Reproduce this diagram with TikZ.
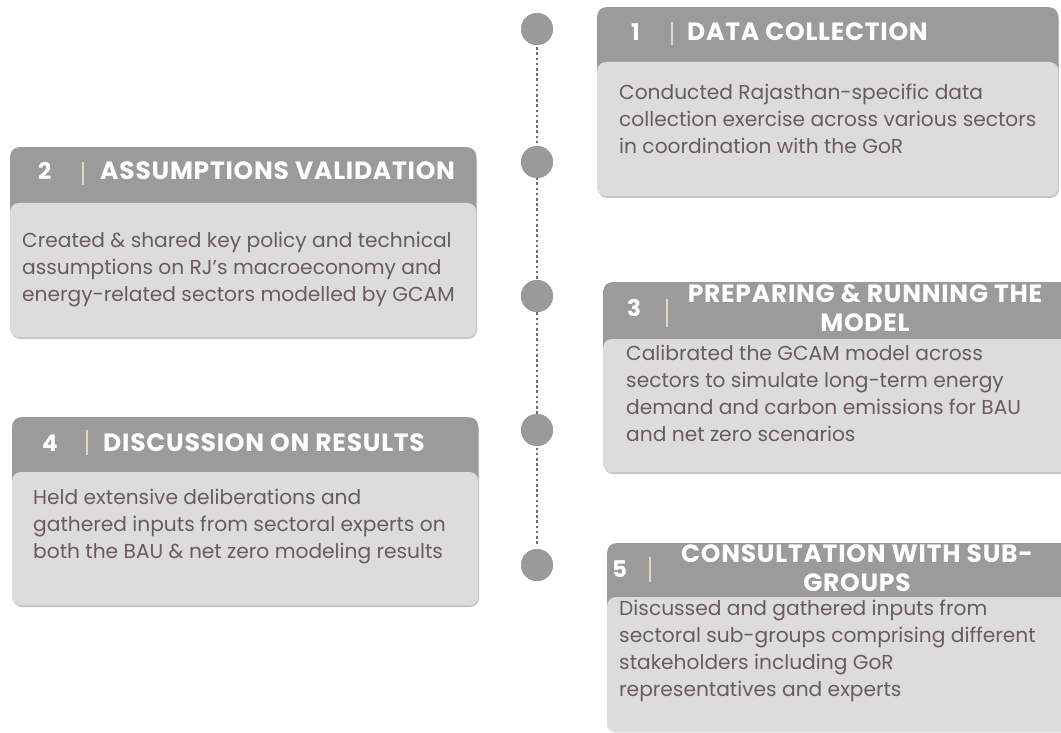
\documentclass[tikz,border=0pt]{standalone}
\usepackage{fontspec}
\setmainfont{Poppins}
\newfontfamily\titlefont[LetterSpace=3]{Poppins}
\definecolor{hdrgray}{HTML}{9B9B9B}
\definecolor{bodygray}{HTML}{DCDCDC}
\definecolor{shadowgray}{HTML}{C4C4C4}
\definecolor{dotgray}{HTML}{9A9A9A}
\definecolor{linegray}{HTML}{6F6F6F}
\definecolor{bodytxt}{HTML}{6B5B5B}
\definecolor{sepcol}{HTML}{E2D8C6}
\begin{document}
\begin{tikzpicture}[x=1pt,y=-1pt,
  card/.style={fill=hdrgray, rounded corners=9pt, inner sep=0, anchor=north west},
  cardbody/.style={fill=bodygray, rounded corners=9pt},
  cardshadow/.style={fill=shadowgray, rounded corners=9pt},
  stepnum/.style={font=\fontsize{23}{26}\selectfont\bfseries, text=white, anchor=base west, inner sep=0},
  steptitle/.style={font=\titlefont\fontsize{25}{29}\selectfont\bfseries, text=white, inner sep=0},
  bodytext/.style={font=\fontsize{20.2}{27}\selectfont, text=bodytxt, align=left, anchor=north west, inner sep=0},
  sepbar/.style={draw=sepcol, line width=1.3pt},
  dotnode/.style={circle, fill=dotgray, minimum size=32pt, inner sep=0},
  dotline/.style={draw=linegray, line width=2.6pt, dash pattern=on 2.6pt off 2.6pt}]
\useasboundingbox (0,0) rectangle (1061,733);
\fill[white] (0,0) rectangle (1061,733);

% timeline: dotted spine behind five markers
\node[dotnode] (c1) at (537,29) {};
\node[dotnode] (c2) at (537,162) {};
\node[dotnode] (c3) at (537,296) {};
\node[dotnode] (c4) at (537,430) {};
\node[dotnode] (c5) at (537,565) {};
\draw[dotline, shorten <=2pt, shorten >=4pt] (c1.south) -- (c5.north);
\foreach \c in {c1,c2,c3,c4,c5} \fill[dotgray] (\c) circle (16pt);

% soft shadows under the cards
\fill[cardshadow] (598,10) rectangle (1059,198);
\fill[cardshadow] (11,150) rectangle (477,339);
\fill[cardshadow] (604,285) rectangle (1075,474);
\fill[cardshadow] (13,420) rectangle (479,607);

% card 1
\node[card, minimum width=461pt, minimum height=189pt] (b1) at (597,7) {};
\fill[cardbody] (b1.south west) rectangle (b1.east |- 0,62);
\node[stepnum] (n1) at (631,41) {1};
\draw[sepbar] (672,22) -- (672,45);
\node[steptitle, anchor=base west] (t1) at (687,41) {DATA COLLECTION};
\node[bodytext] (d1) at (619,84) {Conducted Rajasthan-specific data\\collection exercise across various sectors\\in coordination with the GoR};

% card 2
\node[card, minimum width=466pt, minimum height=190pt] (b2) at (10,147) {};
\fill[cardbody] (b2.south west) rectangle (b2.east |- 0,203);
\node[stepnum] (n2) at (38,180) {2};
\draw[sepbar] (83,162) -- (83,185);
\node[steptitle, anchor=base west] (t2) at (100,180) {ASSUMPTIONS VALIDATION};
\node[bodytext] (d2) at (22,232) {Created \& shared key policy and technical\\assumptions on RJ's macroeconomy and\\energy-related sectors modelled by GCAM};

% card 3
\node[card, minimum width=470pt, minimum height=190pt] (b3) at (603,282) {};
\fill[cardbody] (b3.south west) rectangle (b3.east |- 0,339);
\node[stepnum] (n3) at (627,316) {3};
\draw[sepbar] (667,299) -- (667,327);
\node[steptitle, align=center, anchor=north] (t3) at (865,284) {PREPARING \& RUNNING THE\\MODEL};
\node[bodytext] (d3) at (626,345) {Calibrated the GCAM model across\\sectors to simulate long-term energy\\demand and carbon emissions for BAU\\and net zero scenarios};

% card 4
\node[card, minimum width=466pt, minimum height=188pt] (b4) at (12,417) {};
\fill[cardbody] (b4.south west) rectangle (b4.east |- 0,472);
\node[stepnum] (n4) at (42,451) {4};
\draw[sepbar] (87,430) -- (87,455);
\node[steptitle, anchor=base west] (t4) at (103,451) {DISCUSSION ON RESULTS};
\node[bodytext] (d4) at (33,489) {Held extensive deliberations and\\gathered inputs from sectoral experts on\\both the BAU \& net zero modeling results};

% card 5
\node[card, minimum width=470pt, minimum height=189pt] (b5) at (607,543) {};
\fill[cardbody] (b5.south west) rectangle (b5.east |- 0,597);
\node[stepnum] (n5) at (612,577) {5};
\draw[sepbar] (650,557) -- (650,582);
\node[steptitle, align=center, anchor=north] (t5) at (857,544) {CONSULTATION WITH SUB-\\GROUPS};
\node[bodytext] (d5) at (619,600) {Discussed and gathered inputs from\\sectoral sub-groups comprising different\\stakeholders including GoR\\representatives and experts};
\end{tikzpicture}
\end{document}
